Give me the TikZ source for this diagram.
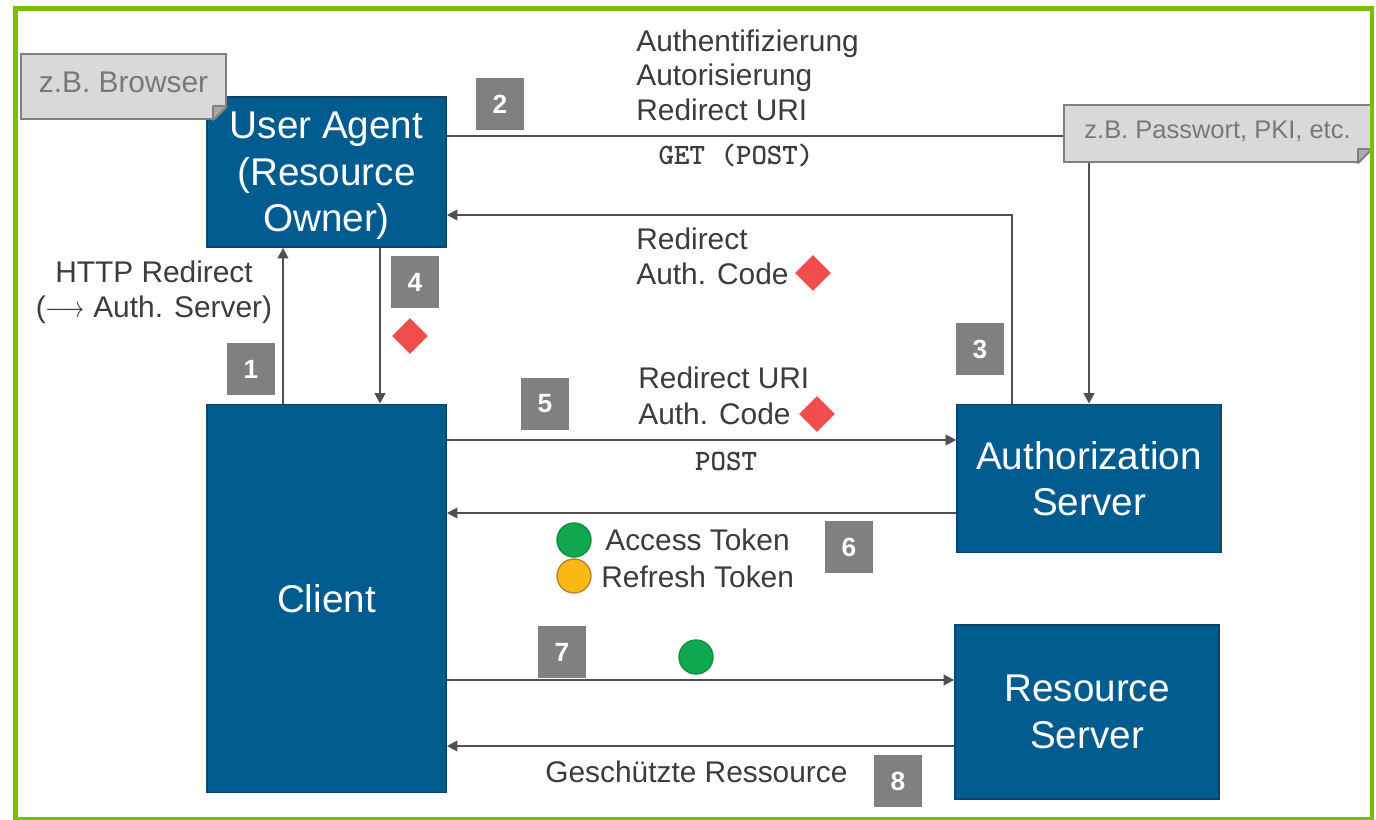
\documentclass[tikz,border=0pt]{standalone}
\usepackage{fontspec}
\setmainfont{Liberation Sans}
\usetikzlibrary{arrows.meta,shapes.geometric}

\definecolor{framegreen}{RGB}{122,190,0}
\definecolor{boxblue}{RGB}{0,91,143}
\definecolor{boxedge}{RGB}{12,68,108}
\definecolor{numgray}{RGB}{128,128,128}
\definecolor{notefill}{RGB}{217,217,217}
\definecolor{noteedge}{RGB}{128,128,128}
\definecolor{notetext}{RGB}{120,120,120}
\definecolor{notefold}{RGB}{170,170,170}
\definecolor{linegray}{RGB}{80,80,80}
\definecolor{labelgray}{RGB}{60,60,60}
\definecolor{codered}{RGB}{240,78,78}
\definecolor{tokengreen}{RGB}{16,168,78}
\definecolor{tokenorange}{RGB}{253,185,19}
\definecolor{orangeedge}{RGB}{190,130,50}

\tikzset{
  party/.style={draw=boxedge, line width=1pt, fill=boxblue, text=white,
    font=\fontsize{22}{26.4}\selectfont, align=center, inner sep=0pt},
  stepnum/.style={fill=numgray, text=white, font=\fontsize{15}{18}\selectfont\bfseries,
    minimum width=0.96cm, minimum height=1.04cm, inner sep=0pt},
  lbl/.style={text=labelgray, font=\fontsize{17}{20}\selectfont, inner sep=0pt, anchor=base west},
  code/.style={text=labelgray, font=\ttfamily\bfseries\fontsize{16.8}{19}\selectfont, inner sep=0pt, anchor=base},
  notebox/.style={draw=noteedge, line width=1.2pt, fill=notefill, text=notetext,
    inner sep=0pt, text depth=4.5pt},
  flow/.style={draw=linegray, line width=1.3pt, -{Triangle[length=6pt,width=6pt]}},
  wire/.style={draw=linegray, line width=1.3pt},
  authcode/.style={diamond, fill=codered, inner sep=0pt, minimum size=0.72cm},
  token/.style={circle, inner sep=0pt, minimum size=0.68cm, line width=0.8pt},
}

% folded corner of a note: node name, colour behind the corner
\newcommand{\dogear}[2]{%
  \coordinate (#1-se) at (#1.south east);
  \fill[#2] ([xshift=-8pt,yshift=-1pt]#1-se) -- ([xshift=1pt,yshift=-1pt]#1-se)
    -- ([xshift=1pt,yshift=8pt]#1-se) -- cycle;
  \draw[noteedge, line width=1pt, fill=notefold, line join=round]
    ([xshift=-8pt]#1-se) -- ([yshift=8pt]#1-se) -- ([xshift=-8pt,yshift=8pt]#1-se) -- cycle;
}

\begin{document}
\begin{tikzpicture}[x=0.02cm, y=-0.02cm]
  \useasboundingbox (0,0) rectangle (1376,820);
  \fill[white] (0,0) rectangle (1376,820);

  % Parties
  \node[party, minimum width=4.78cm, minimum height=3cm, text depth=-6.5pt] (agent) at (326.5,172) {User Agent\\(Resource\\Owner)};
  \node[party, minimum width=4.78cm, minimum height=7.76cm] (client) at (326.5,598.5) {Client};
  \node[party, minimum width=5.28cm, minimum height=2.96cm] (auth) at (1089,478.5) {Authorization\\Server};
  \node[party, minimum width=5.28cm, minimum height=3.48cm] (res) at (1087,712) {Resource\\Server};

  % Notes
  \node[notebox, minimum width=4.1cm, minimum height=1.3cm, font=\fontsize{17}{20}\selectfont] (browser) at (123.5,86.5) {z.B. Browser};
  \dogear{browser}{boxblue}
  \node[notebox, minimum width=6.14cm, minimum height=1.14cm, font=\fontsize{14.5}{17}\selectfont] (pw) at (1217.5,133.5) {z.B. Passwort, PKI, etc.};
  \dogear{pw}{white}

  % Helper coordinates for the connectors
  \coordinate (x1) at (283,0);
  \coordinate (x4) at (380,0);
  \coordinate (y2) at (0,136);
  \coordinate (xpw) at (1089,0);
  \coordinate (r3) at (1012,215);
  \coordinate (y5) at (0,440);
  \coordinate (y6) at (0,513);
  \coordinate (y7) at (0,680);
  \coordinate (y8) at (0,746);

  % Connectors
  \draw[flow] (client.north -| x1) -- (agent.south -| x1);
  \draw[wire] (agent.east |- y2) -- (pw.west |- y2);
  \draw[flow] (pw.south -| xpw) -- (auth.north -| xpw);
  \draw[flow] (auth.north -| r3) |- (agent.east |- r3);
  \draw[flow] (agent.south -| x4) -- (client.north -| x4);
  \draw[flow] (client.east |- y5) -- (auth.west |- y5);
  \draw[flow] (auth.west |- y6) -- (client.east |- y6);
  \draw[flow] (client.east |- y7) -- (res.west |- y7);
  \draw[flow] (res.west |- y8) -- (client.east |- y8);

  % Labels
  \node[lbl] (l2a) at (636,52) {Authentifizierung};
  \node[lbl] (l2b) at (636,86) {Autorisierung};
  \node[lbl] (l2c) at (636,121) {Redirect URI};
  \node[code] (l2m) at (736,165) {GET (POST)};
  \node[lbl] (l3a) at (636,250) {Redirect};
  \node[lbl] (l3b) at (636,285) {Auth. Code};
  \node[lbl, anchor=base] (l1a) at (154,283) {HTTP Redirect};
  \node[lbl, anchor=base] (l1b) at (154,318) {(\scalebox{0.8}[1]{\(\longrightarrow\)} Auth. Server)};
  \node[lbl] (l5a) at (638,389) {Redirect URI};
  \node[lbl] (l5b) at (638,425) {Auth. Code};
  \node[code] (l5m) at (726,471) {POST};
  \node[lbl] (l6a) at (605,551) {Access Token};
  \node[lbl] (l6b) at (601,587) {Refresh Token};
  \node[lbl] (l8a) at (545,782) {Geschützte Ressource};

  % Auth codes and tokens
  \node[authcode] (d3) at (813,273) {};
  \node[authcode] (d4) at (410,336) {};
  \node[authcode] (d5) at (817,414) {};
  \node[token, fill=tokengreen, draw=tokengreen!85!black] (acc6) at (574,540) {};
  \node[token, fill=tokenorange, draw=orangeedge] (ref6) at (574,576) {};
  \node[token, fill=tokengreen, draw=tokengreen!85!black] (acc7) at (696,657) {};

  % Step numbers
  \foreach \n/\x/\y in {1/251/369, 2/500/104, 3/980/349, 4/415/282,
                        5/545/404, 6/849/547, 7/562/652, 8/898/781} {
    \node[stepnum] (n\n) at (\x,\y) {\n};
  }

  % Frame
  \draw[framegreen, line width=2.8pt] (15.5,8.5) rectangle (1372,819.5);
\end{tikzpicture}
\end{document}
